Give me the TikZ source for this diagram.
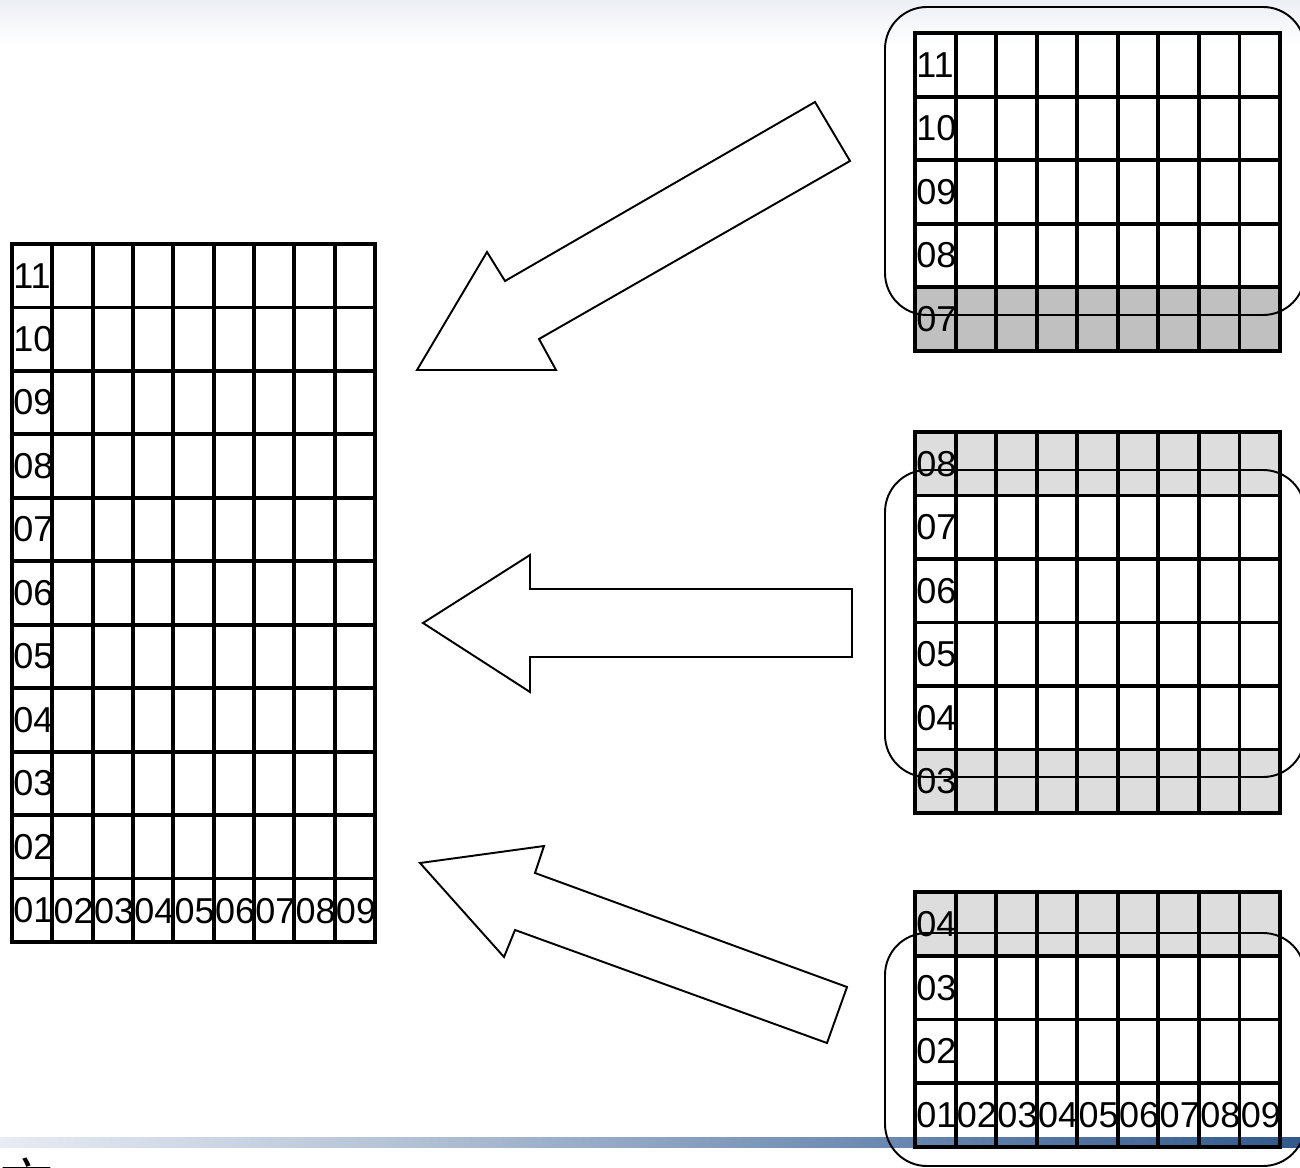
\documentclass[tikz,border=0pt]{standalone}
\usepackage{fontspec}
\setmainfont{Liberation Sans}
\newfontfamily\cjkfont{Noto Sans CJK SC}
\usetikzlibrary{positioning}
\usepackage{xcolor}
\definecolor{darkrow}{RGB}{192, 192, 192}
\definecolor{lightrow}{RGB}{221, 221, 221}
\definecolor{topfade}{RGB}{236, 239, 245}
\definecolor{barA}{RGB}{232, 236, 243}
\definecolor{barB}{RGB}{180, 194, 214}
\definecolor{barC}{RGB}{107, 137, 176}
\definecolor{barD}{RGB}{51, 89, 140}

\begin{document}
\begin{tikzpicture}[x=0.02cm, y=-0.02cm,
    gridline/.style={line width=2.2pt, line cap=rect},
    frame/.style={line width=1.1pt, rounded corners=0.84cm},
    bigarrow/.style={line width=1.1pt, fill=white, line join=miter},
    cell/.style={anchor=west, inner sep=0pt, font=\fontsize{20.5}{24}\selectfont}]
        \useasboundingbox (0,0) rectangle (1300,1168);

        % page background
        \shade[top color=topfade, bottom color=white] (0,0) rectangle (1300,45);
        \shade[left color=barA, right color=barB] (0,1137) rectangle (400,1147);
        \shade[left color=barB, right color=barC] (400,1137) rectangle (880,1147);
        \shade[left color=barC, right color=barD] (880,1137) rectangle (1300,1147);
        \node[anchor=base west, inner sep=0pt, font=\cjkfont\fontsize{30}{32}\selectfont] (title) at (0,1202) {文};

        % full table
        \foreach \i in {0,...,9}
            \draw[gridline] (12+40.33*\i, 244) -- (12+40.33*\i, 942);
        \foreach \j in {0,...,11}
            \draw[gridline] (12, 244+63.45*\j) -- (375, 244+63.45*\j);
        \foreach \lab [count=\j from 0] in {11,10,09,08,07,06,05,04,03,02,01}
            \node[cell] (full-row-\lab) at (13, 275.7+63.45*\j) {\lab};
        \foreach \lab [count=\i from 1] in {02,03,04,05,06,07,08,09}
            \node[cell] (full-col-\lab) at (13+40.33*\i, 911.3) {\lab};

        % upper part
        \fill[darkrow] (915, 287.4) rectangle (1280, 351);
        \draw[frame] (885, 7) rectangle (1305, 315);
        \foreach \i in {0,...,9}
            \draw[gridline] (915+40.56*\i, 33) -- (915+40.56*\i, 351);
        \foreach \j in {0,...,5}
            \draw[gridline] (915, 33+63.6*\j) -- (1280, 33+63.6*\j);
        \foreach \lab [count=\j from 0] in {11,10,09,08,07}
            \node[cell] (top-row-\lab) at (916, 64.8+63.6*\j) {\lab};

        % middle part
        \fill[lightrow] (915, 432) rectangle (1280, 495.5);
        \fill[lightrow] (915, 749.5) rectangle (1280, 813);
        \draw[frame] (885, 470) rectangle (1305, 777);
        \foreach \i in {0,...,9}
            \draw[gridline] (915+40.56*\i, 432) -- (915+40.56*\i, 813);
        \foreach \j in {0,...,6}
            \draw[gridline] (915, 432+63.5*\j) -- (1280, 432+63.5*\j);
        \foreach \lab [count=\j from 0] in {08,07,06,05,04,03}
            \node[cell] (mid-row-\lab) at (916, 463.7+63.5*\j) {\lab};

        % lower part
        \fill[lightrow] (915, 892) rectangle (1280, 955.75);
        \draw[frame] (885, 933) rectangle (1305, 1166);
        \foreach \i in {0,...,9}
            \draw[gridline] (915+40.56*\i, 892) -- (915+40.56*\i, 1147);
        \foreach \j in {0,...,4}
            \draw[gridline] (915, 892+63.75*\j) -- (1280, 892+63.75*\j);
        \foreach \lab [count=\j from 0] in {04,03,02,01}
            \node[cell] (low-row-\lab) at (916, 923.9+63.75*\j) {\lab};
        \foreach \lab [count=\i from 1] in {02,03,04,05,06,07,08,09}
            \node[cell] (low-col-\lab) at (916+40.56*\i, 1115.1) {\lab};

        % block arrows
        \draw[bigarrow] (815,102) -- (850,161) -- (539,339) -- (556,370) -- (417,370) -- (487,252) -- (505,281) -- cycle;
        \draw[bigarrow] (423,623) -- (530,555) -- (530,589) -- (852,589) -- (852,657) -- (530,657) -- (530,692) -- cycle;
        \draw[bigarrow] (420,863) -- (544,846) -- (535,873) -- (847,987) -- (827,1043) -- (515,930) -- (504,957) -- cycle;

    \end{tikzpicture}
\end{document}
